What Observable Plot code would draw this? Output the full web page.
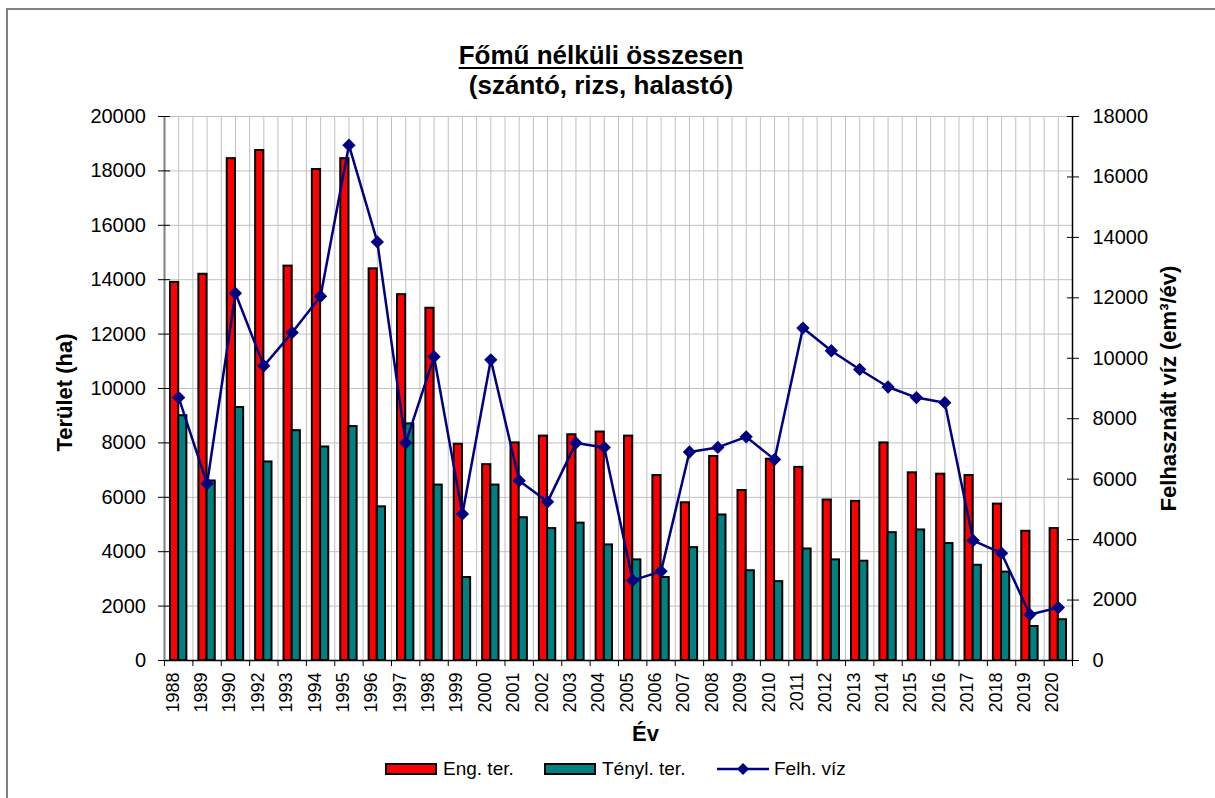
<!DOCTYPE html>
<html>
<head>
<meta charset="utf-8">
<script src="https://cdn.jsdelivr.net/npm/d3@7"></script>
<script src="https://cdn.jsdelivr.net/npm/@observablehq/plot@0.6"></script>
<style>
  html, body { margin: 0; padding: 0; background: #fff; width: 1215px; height: 798px; overflow: hidden; }
  body { position: relative; font-family: "Liberation Sans", Arial, sans-serif; color: #000; }
  #frame { position: absolute; left: 6px; top: 8px; width: 1400px; height: 1000px;
           border-left: 2px solid #808080; border-top: 2px solid #808080; pointer-events: none; }
  #title { position: relative; height: 100px; width: 1202px; text-align: center; font-weight: bold;
           font-size: 26px; line-height: 30px; box-sizing: border-box; padding-top: 40px; }
  #title .t1 { text-decoration: underline; text-decoration-thickness: 2px; text-underline-offset: 3px; }
  #chart { position: relative; height: 660px; }
  #chart svg { display: block; }
  #legend { position: relative; height: 38px; font-size: 19px; }
  .item { position: absolute; top: 0; height: 22px; display: flex; align-items: center; white-space: nowrap; }
  .sw { width: 48px; height: 8px; border: 2px solid #000; margin-right: 6px; }
  .ln { margin-right: 5px; }
</style>
</head>
<body>
<div id="frame"></div>
<div id="title"><div class="t1">Főmű nélküli összesen</div><div>(szántó, rizs, halastó)</div></div>
<div id="chart"></div>
<div id="legend"></div>
<script>
// ---- data ----
const years = ["1988","1989","1990","1992","1993","1994","1995","1996","1997","1998","1999","2000",
  "2001","2002","2003","2004","2005","2006","2007","2008","2009","2010","2011","2012","2013","2014",
  "2015","2016","2017","2018","2019","2020"];
// Eng. ter. (ha)
const engTer = [13900,14200,18450,18750,14500,18050,18450,14400,13450,12950,7950,7200,
  8000,8250,8300,8400,8250,6800,5800,7500,6250,7400,7100,5900,5850,8000,
  6900,6850,6800,5750,4750,4850];
// Tényl. ter. (ha)
const tenylTer = [9000,6600,9300,7300,8450,7850,8600,5650,8700,6450,3050,6450,
  5250,4850,5050,4250,3700,3050,4150,5350,3300,2900,4100,3700,3650,4700,
  4800,4300,3500,3250,1250,1500];
// Felh. víz (em3/év)
const felhViz = [8700,5850,12150,9750,10850,12050,17050,13850,7200,10050,4850,9950,
  5950,5250,7200,7050,2650,2950,6900,7050,7400,6650,11000,10250,9630,9050,
  8700,8530,3970,3550,1520,1750];
const leftTicks = [0,2000,4000,6000,8000,10000,12000,14000,16000,18000,20000];
const rightTicks = [0,2000,4000,6000,8000,10000,12000,14000,16000,18000];
const seriesNames = ["Eng. ter.", "Tényl. ter.", "Felh. víz"];

// ---- layout ----
const W = 1215, H = 660, ML = 164, MR = 143, MT = 16, MB = 100;
const bw = (W - ML - MR) / years.length;
const k = 20000 / 18000; // right axis -> left axis units
const rows = years.map((year, i) => ({year, eng: engTer[i], teny: tenylTer[i], viz: felhViz[i]}));
const font = "Liberation Sans, Arial, sans-serif";

const chart = Plot.plot({
  width: W, height: H,
  marginLeft: ML, marginRight: MR, marginTop: MT, marginBottom: MB,
  style: {fontFamily: font, fontSize: "20px", color: "#000", background: "transparent"},
  x: {type: "band", domain: years, padding: 0, round: false, axis: null},
  y: {domain: [0, 20000]},
  marks: [
    Plot.gridY(leftTicks, {stroke: "#c0c0c0", strokeOpacity: 1, strokeWidth: 1}),
    Plot.ruleX(years, {x: d => d, stroke: "#c0c0c0", strokeWidth: 1}),
    Plot.ruleX(years, {x: d => d, dx: bw / 2, stroke: "#c0c0c0", strokeWidth: 1}),
    Plot.barY(rows, {x: "year", y: "eng", fill: "#ff0000", stroke: "#000", strokeWidth: 2,
      insetLeft: 6, insetRight: bw / 2}),
    Plot.barY(rows, {x: "year", y: "teny", fill: "#008080", stroke: "#000", strokeWidth: 2,
      insetLeft: bw / 2, insetRight: 6}),
    // axis lines
    Plot.ruleY([0], {stroke: "#000", strokeWidth: 1.5}),
    Plot.ruleX([years[0]], {x: d => d, dx: -bw / 2, stroke: "#808080", strokeWidth: 2}),
    Plot.ruleX([years[years.length - 1]], {x: d => d, dx: bw / 2, stroke: "#000", strokeWidth: 1.5}),
    // category tick marks
    Plot.ruleX(years, {x: d => d, dx: bw / 2, y1: 0, y2: 0, insetBottom: -6, stroke: "#000", strokeWidth: 1}),
    Plot.ruleX([years[0]], {x: d => d, dx: -bw / 2, y1: 0, y2: 0, insetBottom: -6, stroke: "#000", strokeWidth: 1}),
    // water line
    Plot.line(rows, {x: "year", y: d => d.viz * k, stroke: "#000080", strokeWidth: 2.5}),
    Plot.dot(rows, {x: "year", y: d => d.viz * k, symbol: "diamond2", r: 6, fill: "#000080", stroke: "none"}),
    // left axis
    Plot.axisY(leftTicks, {anchor: "left", tickSize: 12, dx: 6, tickPadding: 12.5, fontSize: 20,
      tickFormat: d => String(d), label: null, stroke: "#000"}),
    // right axis
    Plot.axisY(rightTicks.map(v => v * k), {anchor: "right", tickSize: 12, dx: -6, tickPadding: 14, fontSize: 20,
      tickFormat: d => String(Math.round(d / k)), label: null, stroke: "#000"}),
    // year labels
    Plot.text(years, {x: d => d, text: d => d, frameAnchor: "bottom", rotate: -90, textAnchor: "end",
      dy: 12, fontSize: 18, fill: "#000"}),
    // axis titles
    Plot.text(["Terület (ha)"], {frameAnchor: "left", text: d => d, rotate: -90, textAnchor: "middle",
      dx: -100, dy: 4, fontSize: 22, fontWeight: "bold", fill: "#000"}),
    Plot.text(["Felhasznált víz (em³/év)"], {frameAnchor: "right", text: d => d, rotate: -90, textAnchor: "middle",
      dx: 96, dy: 0, fontSize: 22, fontWeight: "bold", fill: "#000"}),
    Plot.text(["Év"], {frameAnchor: "bottom", text: d => d, textAnchor: "middle", dx: 27, dy: 80,
      fontSize: 22, fontWeight: "bold", fill: "#000"})
  ]
});
document.getElementById("chart").appendChild(chart);

// ---- legend ----
const legend = document.getElementById("legend");
const items = [
  {name: seriesNames[0], left: 385, kind: "bar", color: "#ff0000"},
  {name: seriesNames[1], left: 544, kind: "bar", color: "#008080"},
  {name: seriesNames[2], left: 717, kind: "line", color: "#000080"}
];
for (const it of items) {
  const div = document.createElement("div");
  div.className = "item";
  div.style.left = it.left + "px";
  div.style.top = "-2px";
  if (it.kind === "bar") {
    const sw = document.createElement("span");
    sw.className = "sw";
    sw.style.background = it.color;
    div.appendChild(sw);
  } else {
    const ns = "http://www.w3.org/2000/svg";
    const s = document.createElementNS(ns, "svg");
    s.setAttribute("width", 52); s.setAttribute("height", 14);
    s.setAttribute("class", "ln");
    const l = document.createElementNS(ns, "line");
    l.setAttribute("x1", 0); l.setAttribute("x2", 52); l.setAttribute("y1", 7); l.setAttribute("y2", 7);
    l.setAttribute("stroke", it.color); l.setAttribute("stroke-width", 2.5);
    const p = document.createElementNS(ns, "path");
    p.setAttribute("d", "M26,1L32,7L26,13L20,7Z");
    p.setAttribute("fill", it.color);
    s.appendChild(l); s.appendChild(p);
    div.appendChild(s);
  }
  const t = document.createElement("span");
  t.textContent = it.name;
  div.appendChild(t);
  legend.appendChild(div);
}
</script>
</body>
</html>
